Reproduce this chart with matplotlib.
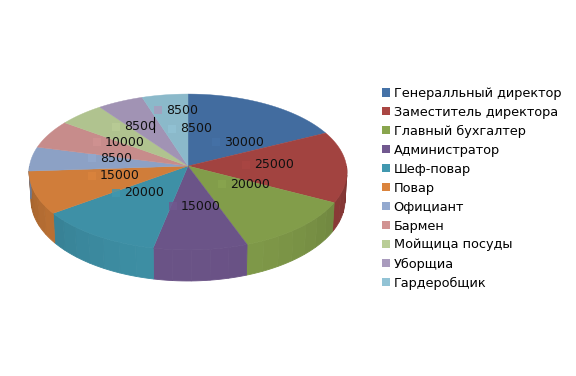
import numpy as np
import matplotlib
matplotlib.use('Agg')
import matplotlib.pyplot as plt
from matplotlib.patches import Patch

names = ['Генералльный директор', 'Заместитель директора', 'Главный бухгалтер', 'Администратор',
         'Шеф-повар', 'Повар', 'Официант', 'Бармен', 'Мойщица посуды', 'Уборщиа', 'Гардеробщик']
salaries = [30000, 25000, 20000, 15000, 20000, 15000, 8500, 10000, 8500, 8500, 8500]

legend_colors = ['#4572A7', '#AA4643', '#89A54E', '#71588F', '#4198AF', '#DB843D',
                 '#93A9CF', '#D19392', '#B9CD96', '#A99BBD', '#92C3D5']

# pixel layout of the fake 3d pie
cx, cy = 188, 166
rx, ry = 158.5, 77.5
persp = 0.077
label_xy = [(216, 142), (246, 165), (222, 184), (173, 206), (116, 193), (92, 175.5),
            (92, 158), (97, 142), (116, 127), (158, 110), (172, 128.5)]


def rim(theta, bottom=False):
    # theta in degrees, clockwise from the top of the pie
    t = np.radians(theta)
    u, v = np.sin(t), np.cos(t)
    w = 1 + persp * v
    x = rx * u / w
    y = -ry * v / w
    if bottom:
        return cx + x * 0.988, cy + y + 27.5 - 3.5 * v
    return cx + x, cy + y


def shade(color, k):
    return tuple(min(1, c * k) for c in matplotlib.colors.to_rgb(color))


fig = plt.figure(figsize=(5.76, 3.76), dpi=100)
ax = fig.add_axes([0, 0, 1, 1])
ax.set_xlim(0, 576)
ax.set_ylim(376, 0)
ax.axis('off')

edges = np.cumsum([0] + salaries) / sum(salaries) * 360

# side walls first, only the front half shows
for i, c in enumerate(legend_colors):
    a0, a1 = max(edges[i], 90), min(edges[i + 1], 270)
    if a1 <= a0:
        continue
    steps = np.linspace(a0, a1, max(int((a1 - a0) / 6), 1) + 1)
    for j in range(len(steps) - 1):
        th = np.linspace(steps[j], steps[j + 1], 5)
        xt, yt = rim(th)
        xb, yb = rim(th[::-1], bottom=True)
        # darker towards the sides of the pie
        mid = np.radians(th.mean())
        col = shade(c, 0.72 + 0.22 * abs(np.cos(mid)))
        ax.fill(np.r_[xt, xb], np.r_[yt, yb], color=col, lw=0.6, zorder=2)

# top face
for i, c in enumerate(legend_colors):
    th = np.linspace(edges[i], edges[i + 1], 80)
    x, y = rim(th)
    col = shade(c, 0.95)
    ax.fill(np.r_[cx, x], np.r_[cy, y], color=col, lw=0.3, zorder=3)

# value labels with their little squares
for (lx, ly), val, c in zip(label_xy, salaries, legend_colors):
    ax.plot(lx, ly, 's', ms=5.6, color=c, mew=0, alpha=0.8, zorder=4)
    ax.text(lx + 8, ly, str(val), fontsize=9, color='#111111', va='center', ha='left', zorder=5)

ax.plot([154, 154], [117, 132], color='black', lw=0.8, zorder=5)

handles = [Patch(facecolor=c, edgecolor='none') for c in legend_colors]
ax.legend(handles, names, loc='upper left', bbox_to_anchor=(378.5 / 576, 1 - 83 / 376), frameon=False,
          fontsize=9.3, handlelength=0.62, handleheight=0.62, handletextpad=0.26,
          labelspacing=0.46, borderpad=0.3, borderaxespad=0)

fig.savefig('out.png', dpi=100)
